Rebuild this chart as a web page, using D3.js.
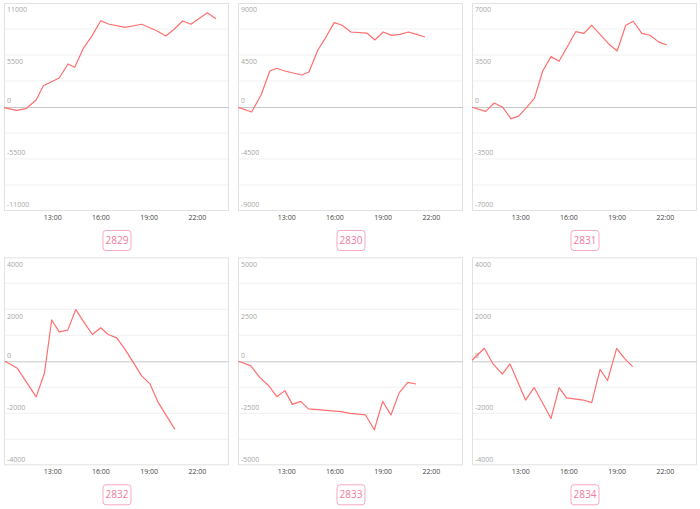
<!DOCTYPE html>
<html>
<head>
<meta charset="utf-8">
<script src="https://cdn.jsdelivr.net/npm/d3@7"></script>
<style>
  html, body { margin: 0; padding: 0; background: #fff; }
  svg { display: block; font-family: "Open Sans", "Noto Sans", sans-serif; }
</style>
</head>
<body>
<svg id="chart" width="700" height="509"></svg>
<script>
// ---------- data ----------
const codes = ["2829", "2830", "2831", "2832", "2833", "2834"];
const yMaxes = [11000, 9000, 7000, 4000, 5000, 4000];
const xTickValues = [13, 16, 19, 22];
const xTickLabels = ["13:00", "16:00", "19:00", "22:00"];
const xDomain = [10, 24];

const times2829 = ["10:00","10:47","11:22","12:00","12:27","13:26","13:59","14:24","14:56","15:28","16:01","16:30","17:32","18:34","19:30","20:04","20:35","21:07","21:38","22:39","23:11"];
const values2829 = [-60,-350,-180,740,2250,3070,4550,4200,6200,7500,9130,8780,8430,8750,8070,7510,8220,9100,8750,9970,9340];

const times2830 = ["10:01","10:51","11:26","11:59","12:24","12:55","13:58","14:25","14:58","15:28","15:59","16:29","17:01","18:01","18:31","19:02","19:34","20:05","20:36","21:07","21:38"];
const values2830 = [-30,-430,1040,3115,3350,3115,2770,3030,4930,6030,7300,7070,6490,6400,5800,6490,6200,6290,6490,6290,6060];

const times2831 = ["10:00","10:51","11:23","11:55","12:25","12:53","13:24","13:53","14:24","14:55","15:25","15:56","16:27","16:58","17:27","17:58","18:32","19:02","19:34","20:02","20:34","21:05","21:35","22:07"];
const values2831 = [-20,-290,270,-20,-785,-630,-20,585,2420,3390,3075,4060,5070,4960,5500,4890,4220,3770,5500,5770,4960,4830,4400,4170];

const times2832 = ["10:04","10:50","12:00","12:31","12:58","13:26","13:58","14:28","14:59","15:30","16:01","16:29","17:01","17:32","18:03","18:34","19:05","19:36","20:38"];
const values2832 = [0,-270,-1370,-460,1590,1130,1200,1990,1500,1030,1290,1030,900,460,-50,-560,-870,-1590,-2620];

const times2833 = ["10:01","10:47","11:22","11:53","12:25","12:55","13:23","13:54","14:23","16:25","16:58","17:56","18:29","19:00","19:31","20:02","20:34","21:05"];
const values2833 = [0,-210,-785,-1150,-1700,-1410,-2070,-1925,-2290,-2420,-2500,-2580,-3290,-1925,-2580,-1505,-1010,-1090];

const times2834 = ["10:00","10:46","11:17","11:53","12:22","13:20","13:52","14:55","15:25","15:53","16:56","17:27","17:58","18:26","19:00","19:29","20:00"];
const values2834 = [40,500,-77,-490,-100,-1490,-1010,-2200,-1010,-1410,-1490,-1590,-310,-740,500,115,-205];

const panelTimes = [times2829, times2830, times2831, times2832, times2833, times2834];
const panelValues = [values2829, values2830, values2831, values2832, values2833, values2834];

// ---------- drawing ----------
const toHours = s => { const [h, m] = s.split(":").map(Number); return h + m / 60; };

const svg = d3.select("#chart");
const plotW = 225, plotH = 208;

codes.forEach((code, i) => {
  const col = i % 3, row = Math.floor(i / 3);
  const left = 4 + col * 234;
  const top = 3 + row * 254.3;
  const g = svg.append("g").attr("transform", `translate(${left},${top})`);

  const x = d3.scaleLinear().domain(xDomain).range([0, plotW]);
  const yMax = yMaxes[i];
  const y = d3.scaleLinear().domain([-yMax, yMax]).range([plotH, 0]);

  // grid lines (8 intervals)
  const gridVals = d3.range(-4, 5).map(k => k * yMax / 4);
  g.append("g").selectAll("line").data(gridVals.filter(v => v !== 0 && Math.abs(v) !== yMax))
    .join("line")
    .attr("x1", 0).attr("x2", plotW)
    .attr("y1", d => y(d)).attr("y2", d => y(d))
    .attr("stroke", "#f1f1f1").attr("stroke-width", 1);

  // frame
  g.append("rect").attr("x", 0.5).attr("y", 0.5).attr("width", plotW - 1).attr("height", plotH - 1)
    .attr("fill", "none").attr("stroke", "#e2e2e2").attr("stroke-width", 1);

  // zero line
  g.append("line").attr("x1", 0).attr("x2", plotW)
    .attr("y1", Math.round(y(0)) + 0.5).attr("y2", Math.round(y(0)) + 0.5)
    .attr("stroke", "#c8c8c8").attr("stroke-width", 1);

  // y labels
  const labelVals = [yMax, yMax / 2, 0, -yMax / 2, -yMax];
  g.append("g").selectAll("text").data(labelVals).join("text")
    .attr("x", 3)
    .attr("y", d => d > 0 ? y(d) + 7 : y(d) - 6)
    .attr("dy", "0.35em")
    .attr("font-size", 7)
    .attr("fill", "#a6a6a6")
    .text(d => String(d));

  // x axis
  const xAxis = d3.axisBottom(x).tickValues(xTickValues)
    .tickFormat((d, k) => xTickLabels[k]).tickSize(0).tickPadding(4);
  const ax = g.append("g").attr("transform", `translate(0,${plotH})`).call(xAxis);
  ax.select(".domain").remove();
  ax.selectAll("text").attr("font-size", 7).attr("fill", "#444").attr("font-family", "Open Sans, Noto Sans, sans-serif");

  // line
  const pts = panelTimes[i].map((t, k) => ({ h: toHours(t), v: panelValues[i][k] }));
  const line = d3.line().x(d => x(d.h)).y(d => y(d.v));
  g.append("path").datum(pts).attr("d", line)
    .attr("fill", "none").attr("stroke", "#ff6f6f").attr("stroke-width", 1.2)
    .attr("stroke-linejoin", "round");

  // code badge
  const bw = 28, bh = 20;
  const bx = plotW / 2 - bw / 2, by = plotH + 19;
  g.append("rect").attr("x", bx + 0.5).attr("y", by + 0.5).attr("width", bw).attr("height", bh)
    .attr("rx", 3).attr("fill", "#fff").attr("stroke", "#f7a9bf").attr("stroke-width", 1);
  g.append("text").attr("x", plotW / 2 + 0.5).attr("y", by + bh / 2 + 0.5)
    .attr("text-anchor", "middle").attr("dy", "0.35em")
    .attr("font-size", 10).attr("fill", "#f27b9c")
    .text(code);
});
</script>
</body>
</html>
